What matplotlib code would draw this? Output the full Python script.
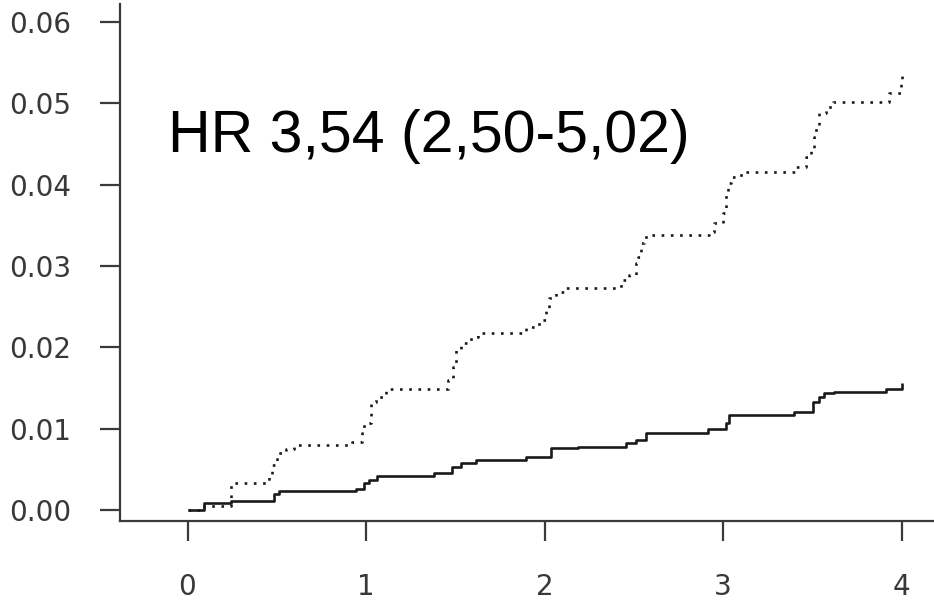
import matplotlib
matplotlib.use("Agg")
import matplotlib.pyplot as plt

# Data (cumulative incidence, step functions)
time_solid = [0.0, 0.09, 0.241, 0.482, 0.51, 0.941, 0.986, 1.014, 1.064, 1.378, 1.479,
              1.529, 1.613, 1.894, 2.034, 2.185, 2.454, 2.51, 2.566, 2.913, 3.014,
              3.031, 3.395, 3.501, 3.535, 3.563, 3.619, 3.91, 4.0]
cum_solid = [0.0, 0.0008, 0.0011, 0.0020, 0.0023, 0.0025, 0.0033, 0.0037, 0.0041, 0.0045,
             0.0053, 0.0058, 0.0061, 0.0065, 0.0076, 0.0077, 0.0082, 0.0086, 0.0095,
             0.0100, 0.0107, 0.0117, 0.0120, 0.0132, 0.0139, 0.0144, 0.0145, 0.0148, 0.0156]

time_dotted = [0.0, 0.09, 0.241, 0.454, 0.476, 0.504, 0.549, 0.594, 0.924, 0.980, 0.986,
               1.025, 1.053, 1.109, 1.457, 1.485, 1.501, 1.529, 1.585, 1.625, 1.894,
               1.966, 2.006, 2.022, 2.062, 2.118, 2.426, 2.471, 2.510, 2.521, 2.538,
               2.555, 2.594, 2.919, 2.947, 2.997, 3.014, 3.025, 3.042, 3.098, 3.406,
               3.462, 3.490, 3.507, 3.518, 3.535, 3.574, 3.613, 3.927, 3.994, 4.0]
cum_dotted = [0.0, 0.0005, 0.0033, 0.0041, 0.0055, 0.0070, 0.0075, 0.0080, 0.0084, 0.0095,
              0.0107, 0.0132, 0.0139, 0.0148, 0.0160, 0.0176, 0.0197, 0.0205, 0.0213,
              0.0218, 0.0225, 0.0234, 0.0246, 0.0261, 0.0268, 0.0273, 0.0283, 0.0289,
              0.0304, 0.0311, 0.0328, 0.0336, 0.0338, 0.0342, 0.0353, 0.0365, 0.0390,
              0.0402, 0.0409, 0.0416, 0.0422, 0.0434, 0.0443, 0.0459, 0.0471, 0.0488,
              0.0496, 0.0502, 0.0513, 0.0525, 0.0537]

x_ticks = [0, 1, 2, 3, 4]
y_ticks = [0.00, 0.01, 0.02, 0.03, 0.04, 0.05, 0.06]
y_tick_labels = ["0.00", "0.01", "0.02", "0.03", "0.04", "0.05", "0.06"]
annotation = "HR 3,54 (2,50-5,02)"

W, H = 934, 601
fig = plt.figure(figsize=(W / 100, H / 100), dpi=100)
left_px, right_px, bottom_px, top_px = 120, 934, 521, 4
ax = fig.add_axes([left_px / W, (H - bottom_px) / H,
                   (right_px - left_px) / W, (bottom_px - top_px) / H])

# pixel->data mapping
x0_px, x_per = 187.5, 178.55
y0_px, y_per = 509.8, 8130.0
ax.set_xlim((left_px - x0_px) / x_per, (right_px - x0_px) / x_per)
ax.set_ylim((y0_px - bottom_px) / y_per, (y0_px - top_px) / y_per)

line_col = "#1a1a1a"
ax.plot(time_solid, cum_solid, drawstyle="steps-post", color=line_col, lw=1.9,
        solid_capstyle="butt")
ax.plot(time_dotted, cum_dotted, drawstyle="steps-post", color=line_col, lw=1.9,
        linestyle=(0, (1.0, 2.5)))

ax.text((168 - x0_px) / x_per, (y0_px - 152) / y_per, annotation,
        fontsize=42.5, family="Liberation Sans", color="black", ha="left", va="baseline")

for s in ["top", "right"]:
    ax.spines[s].set_visible(False)
spine_col = "#3a3a3a"
for s in ["left", "bottom"]:
    ax.spines[s].set_linewidth(1.6)
    ax.spines[s].set_color(spine_col)

ax.set_xticks(x_ticks)
ax.set_xticklabels([str(t) for t in x_ticks])
ax.set_yticks(y_ticks)
ax.set_yticklabels(y_tick_labels)
ax.tick_params(axis="both", direction="out", length=14.4, width=1.6, color=spine_col,
               labelsize=20, labelcolor="#383838")
ax.tick_params(axis="y", pad=21)
ax.tick_params(axis="x", pad=23)
for lab in ax.get_xticklabels() + ax.get_yticklabels():
    lab.set_family("DejaVu Sans")

fig.savefig("out.png", dpi=100)
